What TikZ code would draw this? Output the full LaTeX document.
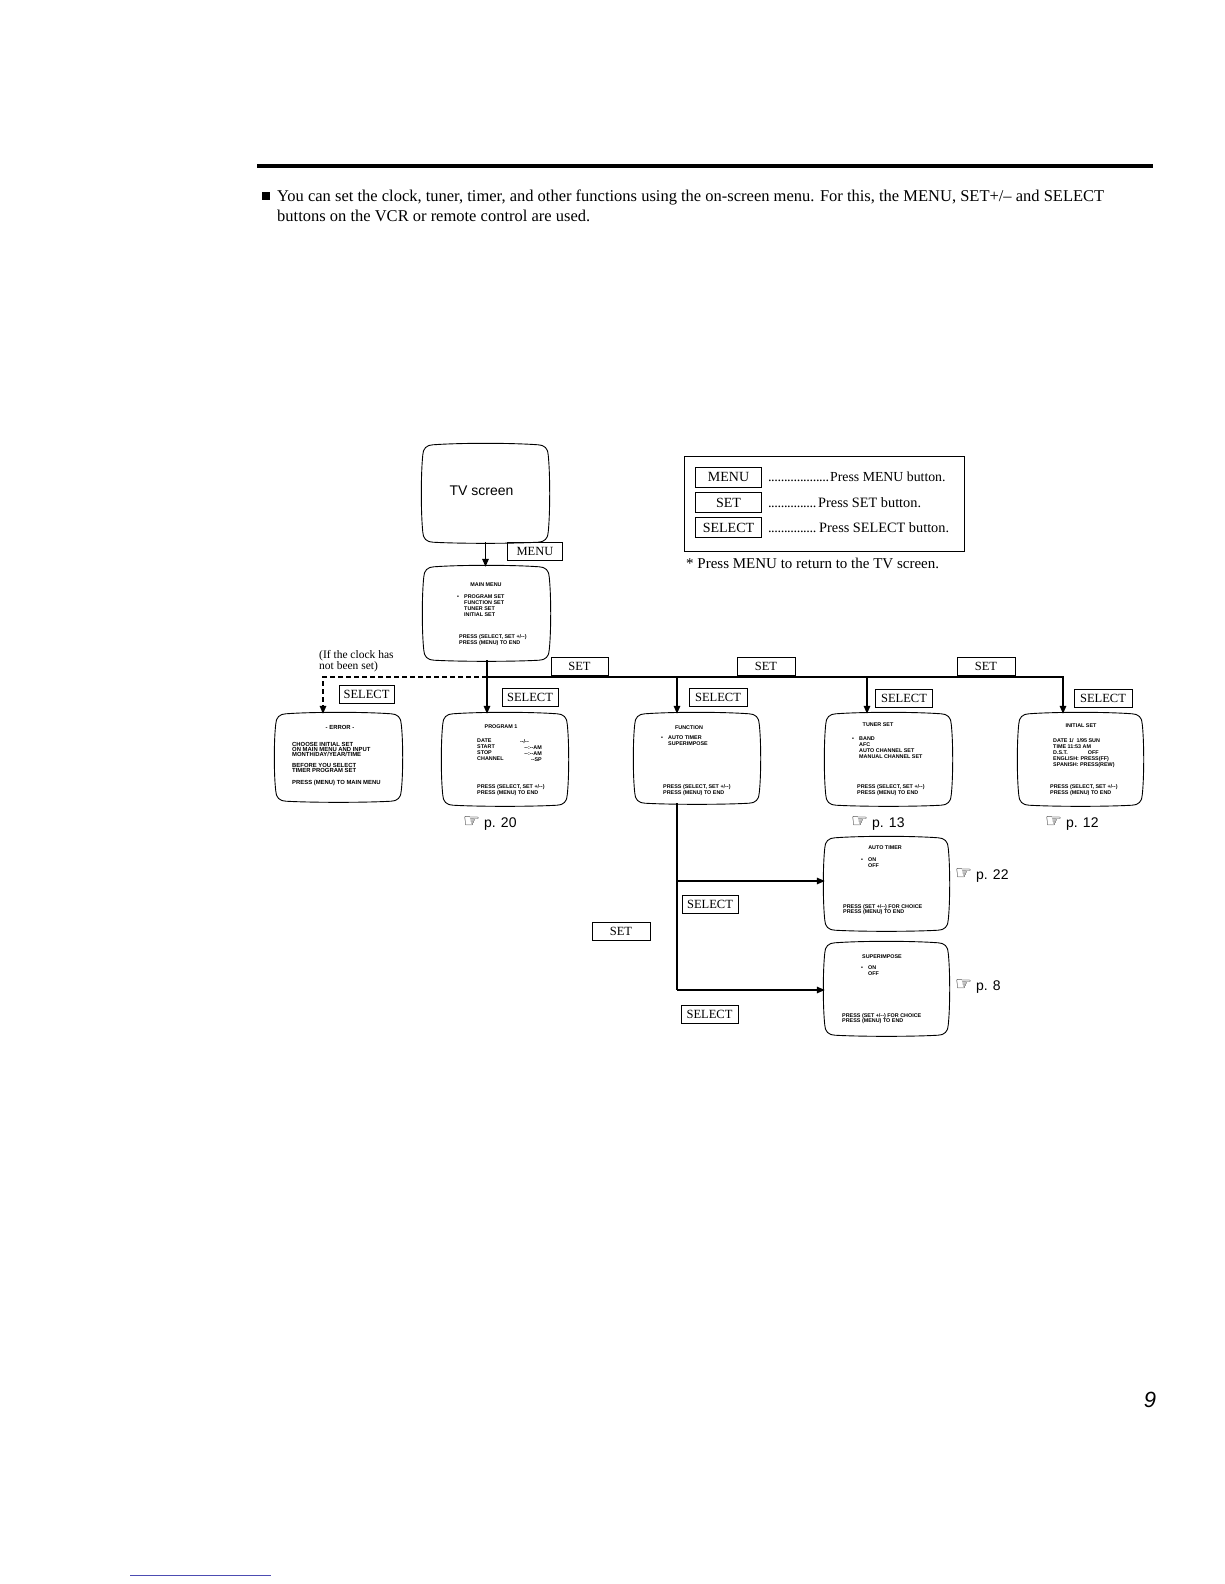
\documentclass[tikz,border=0pt]{standalone}
\usepackage{fontspec}
\setmainfont{Liberation Serif}
\newfontfamily\hel{Liberation Sans}
\newfontfamily\dej{DejaVu Sans}
\usetikzlibrary{arrows.meta,calc}

\newcommand\crt[1]{%
\draw[scrline]
 ([yshift=-10pt]#1.north west)
 .. controls ([yshift=-4pt]#1.north west) and ([xshift=4pt]#1.north west) .. ([xshift=10pt]#1.north west)
 .. controls ($(#1.north west)!0.3!(#1.north east)+(0pt,2pt)$) and ($(#1.north west)!0.7!(#1.north east)+(0pt,2pt)$) .. ([xshift=-10pt]#1.north east)
 .. controls ([xshift=-4pt]#1.north east) and ([yshift=-4pt]#1.north east) .. ([yshift=-10pt]#1.north east)
 .. controls ($(#1.north east)!0.3!(#1.south east)+(2pt,0pt)$) and ($(#1.north east)!0.7!(#1.south east)+(2pt,0pt)$) .. ([yshift=10pt]#1.south east)
 .. controls ([yshift=4pt]#1.south east) and ([xshift=-4pt]#1.south east) .. ([xshift=-10pt]#1.south east)
 .. controls ($(#1.south east)!0.3!(#1.south west)+(0pt,-1.5pt)$) and ($(#1.south east)!0.7!(#1.south west)+(0pt,-1.5pt)$) .. ([xshift=10pt]#1.south west)
 .. controls ([xshift=4pt]#1.south west) and ([yshift=4pt]#1.south west) .. ([yshift=10pt]#1.south west)
 .. controls ($(#1.south west)!0.3!(#1.north west)+(-2pt,0pt)$) and ($(#1.south west)!0.7!(#1.north west)+(-2pt,0pt)$) .. ([yshift=-10pt]#1.north west)
 -- cycle;}
\newcommand\mkscreen[5]{\node[scrbox, minimum width={#4-#2}, minimum height={#5-#3}] (#1) at ({(#2+#4)/2},{(#3+#5)/2}) {};\crt{#1}}
\newcommand\bul{\makebox[7pt][l]{•}}
\newcommand\ind{\hspace*{7pt}}
\newcommand\hand{{\dej\fontsize{19}{19}\selectfont\char"261E}}
\newcommand\dotlead[1]{\makebox[#1][l]{\leaders\hbox to 3.2pt{\hss.\hss}\hfill}}

\begin{document}
\begin{tikzpicture}[x=1pt,y=-1pt,
  scrbox/.style={inner sep=0pt, draw=none},
  scrline/.style={line width=0.9pt},
  lbl/.style={draw, line width=0.7pt, inner sep=0pt, minimum height=18pt, font=\fontsize{12.5}{13}\selectfont},
  key/.style={lbl, minimum width=66pt, minimum height=20pt, font=\fontsize{14}{14}\selectfont},
  ttl/.style={inner sep=0pt, font=\hel\bfseries\fontsize{5.4}{6}\selectfont},
  blk/.style={inner sep=0pt, anchor=north west, align=left, font=\hel\bfseries\fontsize{5.4}{#1}\selectfont},
  blk/.default=5.5,
  arr/.style={line width=1.5pt, -{Triangle[length=8pt,width=6.5pt]}},
  bus/.style={line width=1.5pt},
  ref/.style={inner sep=0pt, anchor=west, font=\hel\fontsize{14}{14}\selectfont},
  body/.style={inner sep=0pt, anchor=base west},
  keytxt/.style={inner sep=0pt, anchor=west, font=\fontsize{14.3}{14}\selectfont},
]
\useasboundingbox (0,0) rectangle (1224,1584);

% header
\coordinate (r1) at (257,166); \coordinate (r2) at (1153,166);
\draw[line width=4pt] (r1) -- (r2);
\node[fill, inner sep=0pt, minimum size=8pt] (bullet) at (266,196) {};
\node[body, font=\fontsize{16.5}{20}\selectfont] (intro1) at (277,201) {You can set the clock, tuner, timer, and other functions using the on-screen menu. For this, the MENU, SET+/– and SELECT};
\node[body, font=\fontsize{16.5}{20}\selectfont] (intro2) at (277,221) {buttons on the VCR or remote control are used.};

% legend
\node[draw, line width=0.6pt, inner sep=0pt, minimum width=280pt, minimum height=95pt] (legend) at (824,503.5) {};
\node[key] (kmenu) at (728.5,477) {MENU};
\node[key] (kset) at (728.5,502.5) {SET};
\node[key] (ksel) at (728.5,527.5) {SELECT};
\node[keytxt] (tmenu) at (768,477) {\dotlead{62pt}{\fontsize{13.8}{14}\selectfont Press MENU button.}};
\node[keytxt] (tset) at (768,502.5) {\dotlead{50pt}Press SET button.};
\node[keytxt] (tsel) at (768,527.5) {\dotlead{51pt}Press SELECT button.};
\node[body, font=\fontsize{15}{15}\selectfont] (note) at (686,568) {* Press MENU to return to the TV screen.};

% TV screen and main menu
\mkscreen{tv}{423}{445}{548}{542}
\node[inner sep=0pt, font=\hel\fontsize{14}{14}\selectfont] (tvtxt) at ([xshift=-4pt,yshift=3pt]tv.center) {TV screen};
\mkscreen{main}{424}{567}{549}{660}
\draw[arr] (tv.south) -- (tv.south |- main.north);
\node[lbl, minimum width=55pt] (lmenu) at (535,551) {MENU};
\node[ttl] (mt) at (486,585) {MAIN MENU};
\node[blk=6] (ml) at (457,595) {\bul PROGRAM SET\\\ind FUNCTION SET\\\ind TUNER SET\\\ind INITIAL SET};
\node[blk=6] (mp) at (459,634) {PRESS (SELECT, SET +/--)\\PRESS (MENU) TO END};

% bus
\coordinate (j0) at (487,677);
\coordinate (j2) at (677,677);
\coordinate (j3) at (867,677);
\coordinate (j4) at (1063,677);
\coordinate (d1) at (323,677);

% screens row
\mkscreen{err}{276}{714}{401}{801}
\mkscreen{prog}{443}{714}{567}{805}
\mkscreen{fun}{635}{714}{759}{803}
\mkscreen{tun}{826}{714}{951}{805}
\mkscreen{init}{1019}{714}{1142}{805}

\draw[bus] (main.south -| j0) -- (j0);
\draw[arr] (j0) -- (j0 |- prog.north);
\draw[arr] (j0) -- (j4) -- (j4 |- init.north);
\draw[arr] (j2) -- (j2 |- fun.north);
\draw[arr] (j3) -- (j3 |- tun.north);
\draw[arr, dash pattern=on 5pt off 3pt] (j0) -- (d1) -- (d1 |- err.north);

\node[body, font=\fontsize{11.5}{11}\selectfont] (if1) at (319,658) {(If the clock has};
\node[body, font=\fontsize{11.5}{11}\selectfont] (if2) at (319,669.5) {not been set)};

\node[lbl, minimum width=57pt] (lset1) at (579.5,666) {SET};
\node[lbl, minimum width=58pt] (lset2) at (766,666) {SET};
\node[lbl, minimum width=58pt] (lset3) at (986,666) {SET};

\node[lbl, minimum width=55pt] (lsel0) at (366.5,694.5) {SELECT};
\node[lbl, minimum width=56pt] (lsel1) at (530,697) {SELECT};
\node[lbl, minimum width=58pt] (lsel2) at (718,697) {SELECT};
\node[lbl, minimum width=57pt] (lsel3) at (904,698) {SELECT};
\node[lbl, minimum width=58pt] (lsel4) at (1103,698) {SELECT};

% error screen
\node[ttl, font=\hel\bfseries\fontsize{5.9}{6}\selectfont] (et) at (340,727) {- ERROR -};
\node[blk, font=\hel\bfseries\fontsize{5.9}{5}\selectfont] (eb) at (292,742) {CHOOSE INITIAL SET\\ON MAIN MENU AND INPUT\\MONTH/DAY/YEAR/TIME\\[6pt]BEFORE YOU SELECT\\TIMER PROGRAM SET\\[7pt]PRESS (MENU) TO MAIN MENU};

% program screen
\node[ttl] (pt) at (501,727) {PROGRAM 1};
\node[blk=6] (pl) at (477,739) {DATE\\START\\STOP\\CHANNEL};
\node[blk=6, anchor=north east, align=right] (pv) at (542,739) {--/--\hspace*{13pt}\\--:--AM\\--:--AM\\--SP};
\node[blk=6] (pp) at (477,784) {PRESS (SELECT, SET +/--)\\PRESS (MENU) TO END};

% function screen
\node[ttl] (ft) at (689,728) {FUNCTION};
\node[blk] (fl) at (661,736) {\bul AUTO TIMER\\\ind SUPERIMPOSE};
\node[blk=6] (fp) at (663,784) {PRESS (SELECT, SET +/--)\\PRESS (MENU) TO END};

% tuner screen
\node[ttl] (tt) at (878,725) {TUNER SET};
\node[blk=6] (tl) at (852,737) {\bul BAND\\\ind AFC\\\ind AUTO CHANNEL SET\\\ind MANUAL CHANNEL SET};
\node[blk=6] (tp) at (857,784) {PRESS (SELECT, SET +/--)\\PRESS (MENU) TO END};

% initial set screen
\node[ttl] (it) at (1081,726) {INITIAL SET};
\node[blk=6] (il) at (1053,738) {DATE 1/\ \ 1/95 SUN\\TIME 11:53 AM\\D.S.T.\hspace*{20pt}OFF\\ENGLISH: PRESS(FF)\\SPANISH: PRESS(REW)};
\node[blk=6] (ip) at (1050,784) {PRESS (SELECT, SET +/--)\\PRESS (MENU) TO END};

% page refs row
\node[ref] (p20) at (463,824) {\hand\ p. 20};
\node[ref] (p13) at (851,824) {\hand\ p. 13};
\node[ref] (p12) at (1045,824) {\hand\ p. 12};

% function branch
\mkscreen{at}{825}{838}{948}{930}
\mkscreen{sup}{825}{943}{948}{1035}
\coordinate (f1) at (677,881);
\coordinate (f2) at (677,990);
\draw[bus] (j2 |- fun.south) -- (f2);
\draw[arr] (f1) -- (f1 -| at.west);
\draw[arr] (f2) -- (f2 -| sup.west);
\node[lbl, minimum width=56pt] (lsel5) at (710,904) {SELECT};
\node[lbl, minimum width=58pt] (lset4) at (621,931.5) {SET};
\node[lbl, minimum width=57pt] (lsel6) at (709.5,1014) {SELECT};

\node[ttl] (att) at (885,848) {AUTO TIMER};
\node[blk] (atl) at (861,858) {\bul ON\\\ind OFF};
\node[blk=5.5] (atp) at (843,904) {PRESS (SET +/--) FOR CHOICE\\PRESS (MENU) TO END};
\node[ref] (p22) at (955,876) {\hand\ p. 22};

\node[ttl] (sut) at (882,957) {SUPERIMPOSE};
\node[blk] (sul) at (861,966) {\bul ON\\\ind OFF};
\node[blk=5.5] (sup2) at (842,1013) {PRESS (SET +/--) FOR CHOICE\\PRESS (MENU) TO END};
\node[ref] (p8) at (955,987) {\hand\ p. 8};

% page number and footer line
\node[inner sep=0pt, font=\hel\itshape\fontsize{22}{22}\selectfont] (pg) at (1150,1400) {9};
\coordinate (fl1) at (130,1575); \coordinate (fl2) at (271,1575);
\draw[line width=0.8pt, blue!40!gray] (fl1) -- (fl2);
\end{tikzpicture}
\end{document}
